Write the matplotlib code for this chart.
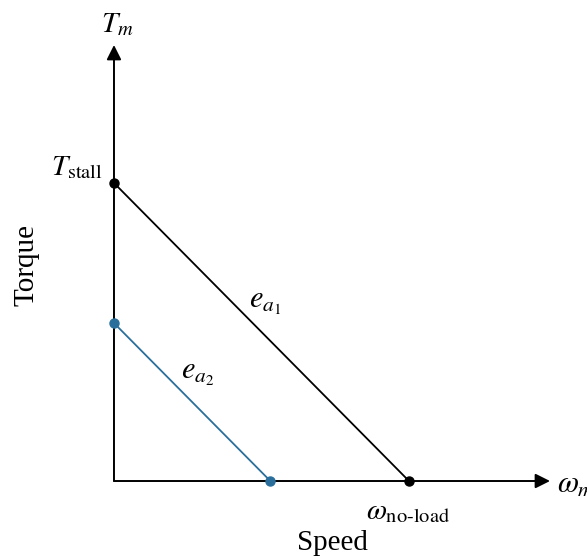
import matplotlib.pyplot as plt

plt.rcParams['font.family'] = ['Liberation Serif', 'DejaVu Serif']
plt.rcParams['mathtext.fontset'] = 'stix'

# curve end points (normalised: no-load speed = 1, stall torque = 1)
speed_a1 = [0, 1.0]
torque_a1 = [1.0, 0]
speed_a2 = [0, 0.53]
torque_a2 = [0.53, 0]

blue = '#2a6f9b'

fig = plt.figure(figsize=(5.87, 5.59), dpi=100)
ax = fig.add_axes([0, 0, 1, 1])
ax.set_xlim(-0.3864, 1.6034)
ax.set_ylim(-0.2617, 1.614)
ax.axis('off')

# axes with arrow heads
arrow = dict(arrowstyle='-|>', color='black', lw=1.4, mutation_scale=22,
             shrinkA=0, shrinkB=0)
ax.annotate('', xy=(1.478, 0), xytext=(0, 0), arrowprops=arrow)
ax.annotate('', xy=(0, 1.463), xytext=(0, 0), arrowprops=arrow)

ax.plot(speed_a1, torque_a1, color='black', lw=1.3, marker='o', ms=6.5, zorder=3)
ax.plot(speed_a2, torque_a2, color=blue, lw=1.3, marker='o', ms=6.5, zorder=3)

ax.text(0.010, 1.530, r'$T_m$', fontsize=21, ha='center', va='center')
ax.text(-0.125, 1.050, r'$T_{\mathrm{stall}}$', fontsize=21, ha='center', va='center')
ax.text(0.512, 0.600, r'$e_{a_1}$', fontsize=22, ha='center', va='center')
ax.text(0.285, 0.360, r'$e_{a_2}$', fontsize=22, ha='center', va='center')
ax.text(1.502, -0.013, r'$\omega_m$', fontsize=22, ha='left', va='center')
ax.text(0.997, -0.104, r'$\omega_{\text{no-load}}$', fontsize=21, ha='center', va='center')

ax.text(0.739, -0.208, 'Speed', fontsize=21, ha='center', va='center')
ax.text(-0.295, 0.725, 'Torque', fontsize=21, ha='center', va='center', rotation=90)

fig.savefig('out.png', dpi=100)
